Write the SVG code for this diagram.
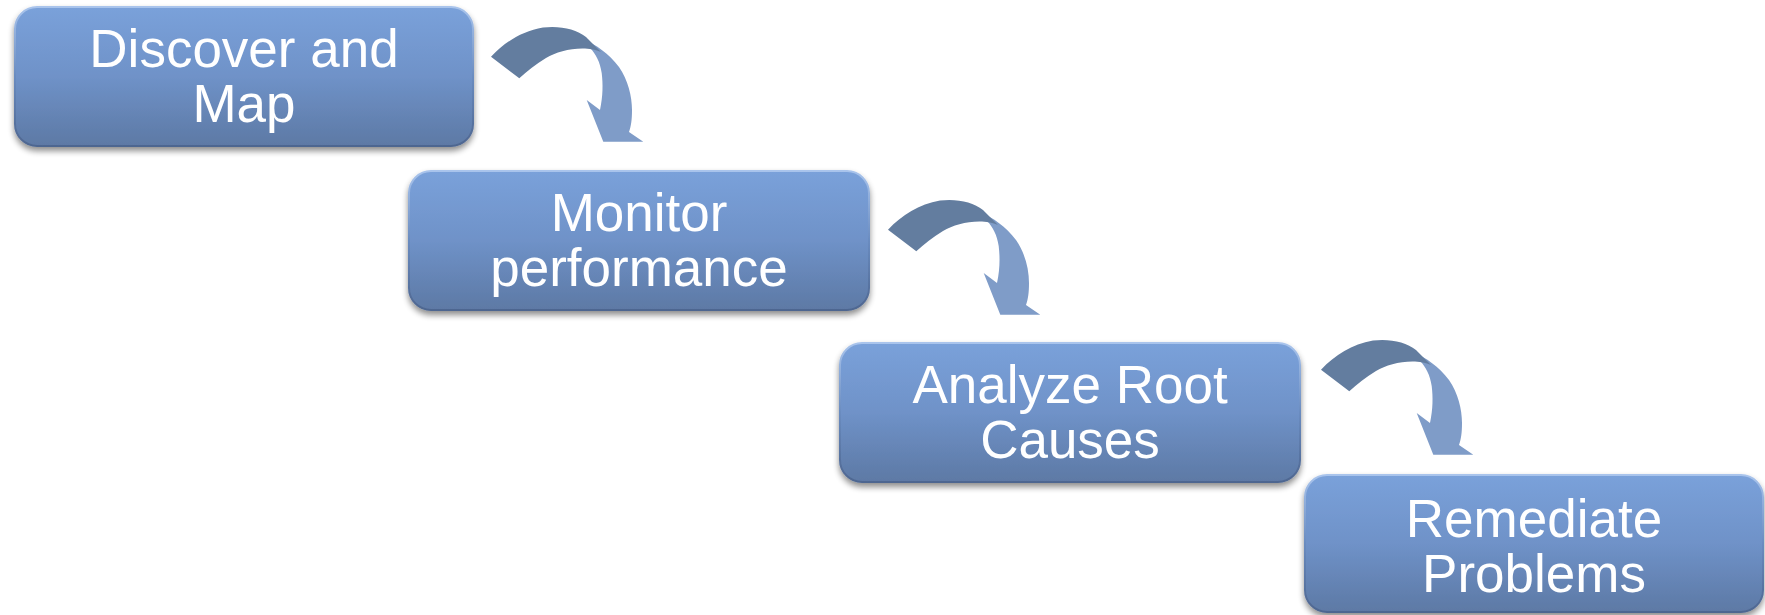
<svg xmlns="http://www.w3.org/2000/svg" width="1765" height="615" viewBox="0 0 1765 615">
<defs>
<linearGradient id="boxFill" x1="0" y1="0" x2="0" y2="1">
<stop offset="0" stop-color="#7AA1DA"/>
<stop offset="0.5" stop-color="#6F92C8"/>
<stop offset="1" stop-color="#5D79A5"/>
</linearGradient>
<linearGradient id="boxEdge" x1="0" y1="0" x2="0" y2="1">
<stop offset="0" stop-color="#A9C4EC"/>
<stop offset="0.5" stop-color="#6A8CC0"/>
<stop offset="1" stop-color="#4E6690"/>
</linearGradient>
<filter id="shadow" x="-5%" y="-10%" width="110%" height="125%">
<feGaussianBlur in="SourceAlpha" stdDeviation="3"/>
<feOffset dx="0" dy="4" result="b"/>
<feComponentTransfer><feFuncA type="linear" slope="0.45"/></feComponentTransfer>
<feMerge><feMergeNode/><feMergeNode in="SourceGraphic"/></feMerge>
</filter>
<g id="curvedArrow">
<path class="arrLight" d="M583,40 C596,44 609,54 619,67 C628,80 632,96 632,110 C632,120 631,126 629,132 L643.3,141.7 L603.3,141.7 L586.7,100 L600,110 C603,96 603,84 601.7,73 C600,62 596,54 590,48 Z"/>
<path class="arrDark" d="M491,56.7 C505,42 522,31 543,27.5 C560,25.5 576,29 586,37 L601,52 C597,50 592,49 585,48.5 C570,48 556,52 546,58 C536,64 527,71 519.3,78.3 Z"/>
</g>
</defs>
<style>
.box { fill: url(#boxFill); stroke: url(#boxEdge); stroke-width: 2; }
.label { font-family: "Liberation Sans", Arial, sans-serif; font-size: 53px; fill: #FFFFFF; text-anchor: middle; }
.arrLight { fill: #7F9CC8; }
.arrDark { fill: #637D9F; }
</style>
<g id="connectors">
<use href="#curvedArrow"/>
<use href="#curvedArrow" transform="translate(397,173)"/>
<use href="#curvedArrow" transform="translate(830,313)"/>
</g>
<g id="node1" filter="url(#shadow)">
<rect class="box" x="15" y="7" width="458" height="139" rx="22" ry="22"/>
<text class="label" x="244" y="67">Discover and</text>
<text class="label" x="244" y="122">Map</text>
</g>
<g id="node2" filter="url(#shadow)">
<rect class="box" x="409" y="171" width="460" height="139" rx="22" ry="22"/>
<text class="label" x="639" y="231">Monitor</text>
<text class="label" x="639" y="286">performance</text>
</g>
<g id="node3" filter="url(#shadow)">
<rect class="box" x="840" y="343" width="460" height="139" rx="22" ry="22"/>
<text class="label" x="1070" y="403">Analyze Root</text>
<text class="label" x="1070" y="458">Causes</text>
</g>
<g id="node4" filter="url(#shadow)">
<rect class="box" x="1305" y="475" width="458" height="137" rx="22" ry="22"/>
<text class="label" x="1534" y="537">Remediate</text>
<text class="label" x="1534" y="592">Problems</text>
</g>
</svg>
